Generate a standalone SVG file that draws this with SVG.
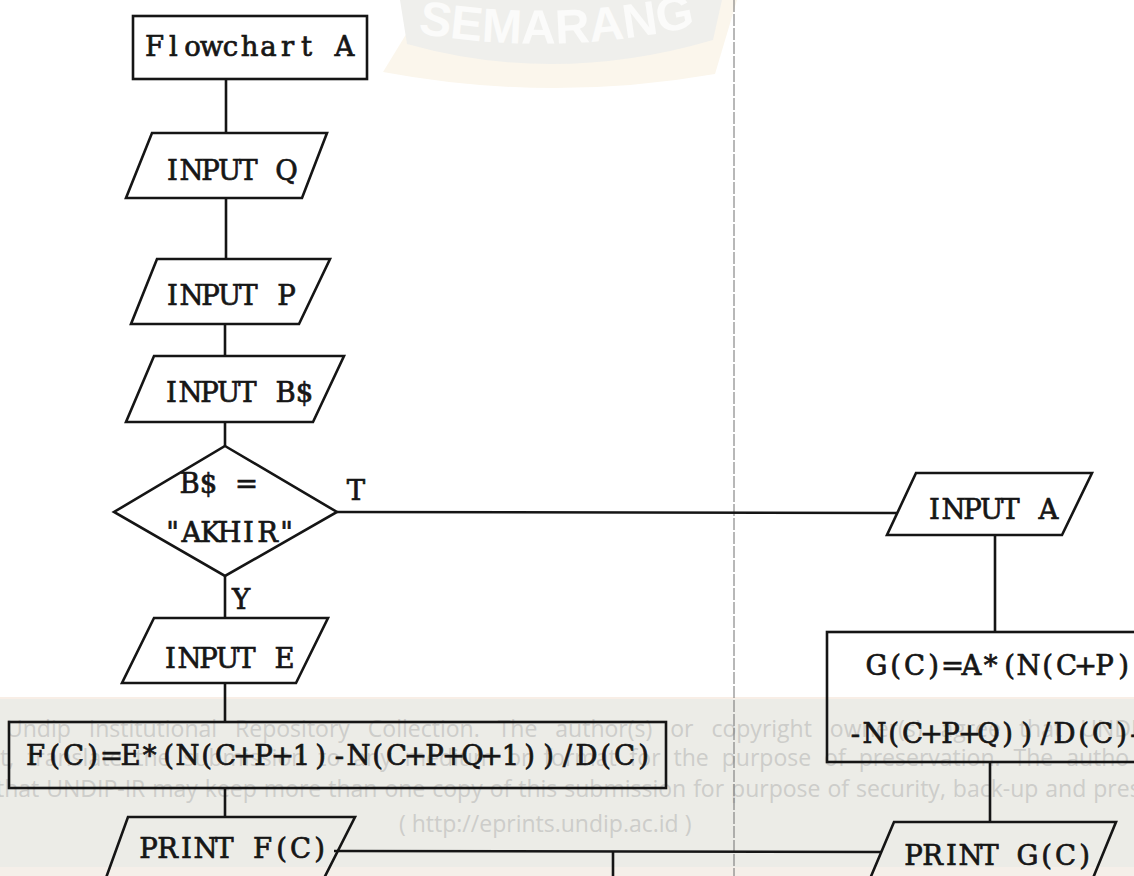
<svg xmlns="http://www.w3.org/2000/svg" width="1134" height="876" viewBox="0 0 1134 876">
<style>
.sh{fill:none;stroke:#151515;stroke-width:2.6;stroke-linejoin:miter}
.ln{fill:none;stroke:#151515;stroke-width:2.6}
.t{font-family:"DejaVu Serif","Liberation Serif",serif;font-size:27.5px;fill:#161616;stroke:#161616;stroke-width:0.7;text-anchor:middle}
.wm{font-family:"Open Sans","Liberation Sans",sans-serif;font-size:23px;fill:#cdcdca}
</style>
<defs>
<path id="arc" d="M 402,30 A 700,700 0 0 0 712,22"/>
</defs>
<rect x="0" y="0" width="1134" height="876" fill="#ffffff"/>
<g id="watermark">
<path d="M 427,0 L 737,0 L 715,74 Q 549,103 383,72 Z" fill="#fbf6ec"/>
<path d="M 400,0 L 722,0 L 713,40 Q 556,86 407,44 Z" fill="#efefec"/>
<text font-family="'Liberation Sans',sans-serif" font-weight="bold" font-size="48" fill="#fbfbfa"><textPath href="#arc" startOffset="16">SEMARANG</textPath></text>
<rect x="0" y="697" width="1134" height="3" fill="#f8eee6"/>
<rect x="0" y="699" width="1134" height="168" fill="#ecece7"/>
<rect x="0" y="867" width="1134" height="9" fill="#f5efe9"/>
<text class="wm" x="6" y="737" word-spacing="12">Undip Institutional Repository Collection. The author(s) or copyright owner(s) agree that UNDIP-IR may</text>
<text class="wm" x="0" y="766" word-spacing="7">t, translate the submission to any medium or format for the purpose of preservation. The autho</text>
<text class="wm" x="-4" y="797" word-spacing="1">that UNDIP-IR may keep more than one copy of this submission for purpose of security, back-up and pres</text>
<text class="wm" x="399" y="832">( http://eprints.undip.ac.id )</text>
<line x1="734" y1="0" x2="734" y2="876" stroke="#707070" stroke-width="1" stroke-dasharray="12 2"/>
</g>
<g id="connectors">
<line class="ln" x1="226" y1="79" x2="226" y2="133"/>
<line class="ln" x1="226" y1="198" x2="226" y2="259"/>
<line class="ln" x1="225" y1="324" x2="225" y2="356"/>
<line class="ln" x1="225" y1="422" x2="225" y2="446"/>
<line class="ln" x1="225" y1="576" x2="225" y2="618"/>
<line class="ln" x1="225" y1="683" x2="225" y2="722"/>
<line class="ln" x1="225" y1="788" x2="225" y2="817"/>
<line class="ln" x1="337" y1="512" x2="897" y2="513"/>
<line class="ln" x1="995" y1="535" x2="995" y2="632"/>
<line class="ln" x1="990" y1="762" x2="990" y2="822"/>
<line class="ln" x1="334" y1="851" x2="881" y2="852"/>
<line class="ln" x1="613" y1="851" x2="613" y2="880"/>
<text class="t" x="356" y="500">T</text>
<text class="t" x="241" y="609">Y</text>
</g>
<g id="start">
<rect class="sh" x="133" y="16" width="234" height="63"/>
<text class="t" x="154.5 173.5 192.5 211.5 230.5 249.5 268.5 287.5 306.5 325.5 344.5" y="56">Flowchart A</text>
</g>
<g id="input-q">
<polygon class="sh" points="152,133 327,133 302,198 126,198"/>
<text class="t" x="172.5 191.5 210.5 229.5 248.5 267.5 286.5" y="180">INPUT Q</text>
</g>
<g id="input-p">
<polygon class="sh" points="157,259 330,259 299,324 131,324"/>
<text class="t" x="172.5 191.5 210.5 229.5 248.5 267.5 286.5" y="305">INPUT P</text>
</g>
<g id="input-b">
<polygon class="sh" points="154,356 344,356 313,422 126,422"/>
<text class="t" x="171.5 190.5 209.5 228.5 247.5 266.5 285.5 304.5" y="402">INPUT B$</text>
</g>
<g id="decision">
<polygon class="sh" points="225,446 337,512 225,576 114,512"/>
<text class="t" x="189.5 208.5 227.5 246.5" y="493">B$ =</text>
<text class="t" x="172.5 191.5 210.5 229.5 248.5 267.5 286.5" y="542">"AKHIR"</text>
</g>
<g id="input-e">
<polygon class="sh" points="154,618 328,618 296,683 122,683"/>
<text class="t" x="170.5 189.5 208.5 227.5 246.5 265.5 284.5" y="668">INPUT E</text>
</g>
<g id="calc-f">
<rect class="sh" x="9" y="722" width="657" height="66"/>
<text class="t" x="35.5 54.5 73.5 92.5 111.5 130.5 149.5 168.5 187.5 206.5 225.5 244.5 263.5 282.5 301.5 320.5 339.5 358.5 377.5 396.5 415.5 434.5 453.5 472.5 491.5 510.5 529.5 548.5 567.5 586.5 605.5 624.5 643.5" y="765">F(C)=E*(N(C+P+1)-N(C+P+Q+1))/D(C)</text>
</g>
<g id="print-f">
<polygon class="sh" points="128,817 355,817 313,900 98,900"/>
<text class="t" x="148.5 167.5 186.5 205.5 224.5 243.5 262.5 281.5 300.5 319.5" y="858">PRINT F(C)</text>
</g>
<g id="input-a">
<polygon class="sh" points="916,473 1092,473 1062,535 887,535"/>
<text class="t" x="934.5 953.5 972.5 991.5 1010.5 1029.5 1048.5" y="519">INPUT A</text>
</g>
<g id="calc-g">
<rect class="sh" x="827" y="632" width="330" height="130"/>
<text class="t" x="876.5 895.5 914.5 933.5 952.5 971.5 990.5 1009.5 1028.5 1047.5 1066.5 1085.5 1104.5 1123.5" y="675">G(C)=A*(N(C+P)</text>
<text class="t" x="855.5 874.5 893.5 912.5 931.5 950.5 969.5 988.5 1007.5 1026.5 1045.5 1064.5 1083.5 1102.5 1121.5 1135" y="743">-N(C+P+Q))/D(C)-</text>
</g>
<g id="print-g">
<polygon class="sh" points="894,822 1116,822 1084,900 861,900"/>
<text class="t" x="913.5 932.5 951.5 970.5 989.5 1008.5 1027.5 1046.5 1065.5 1084.5" y="865">PRINT G(C)</text>
</g>
</svg>
